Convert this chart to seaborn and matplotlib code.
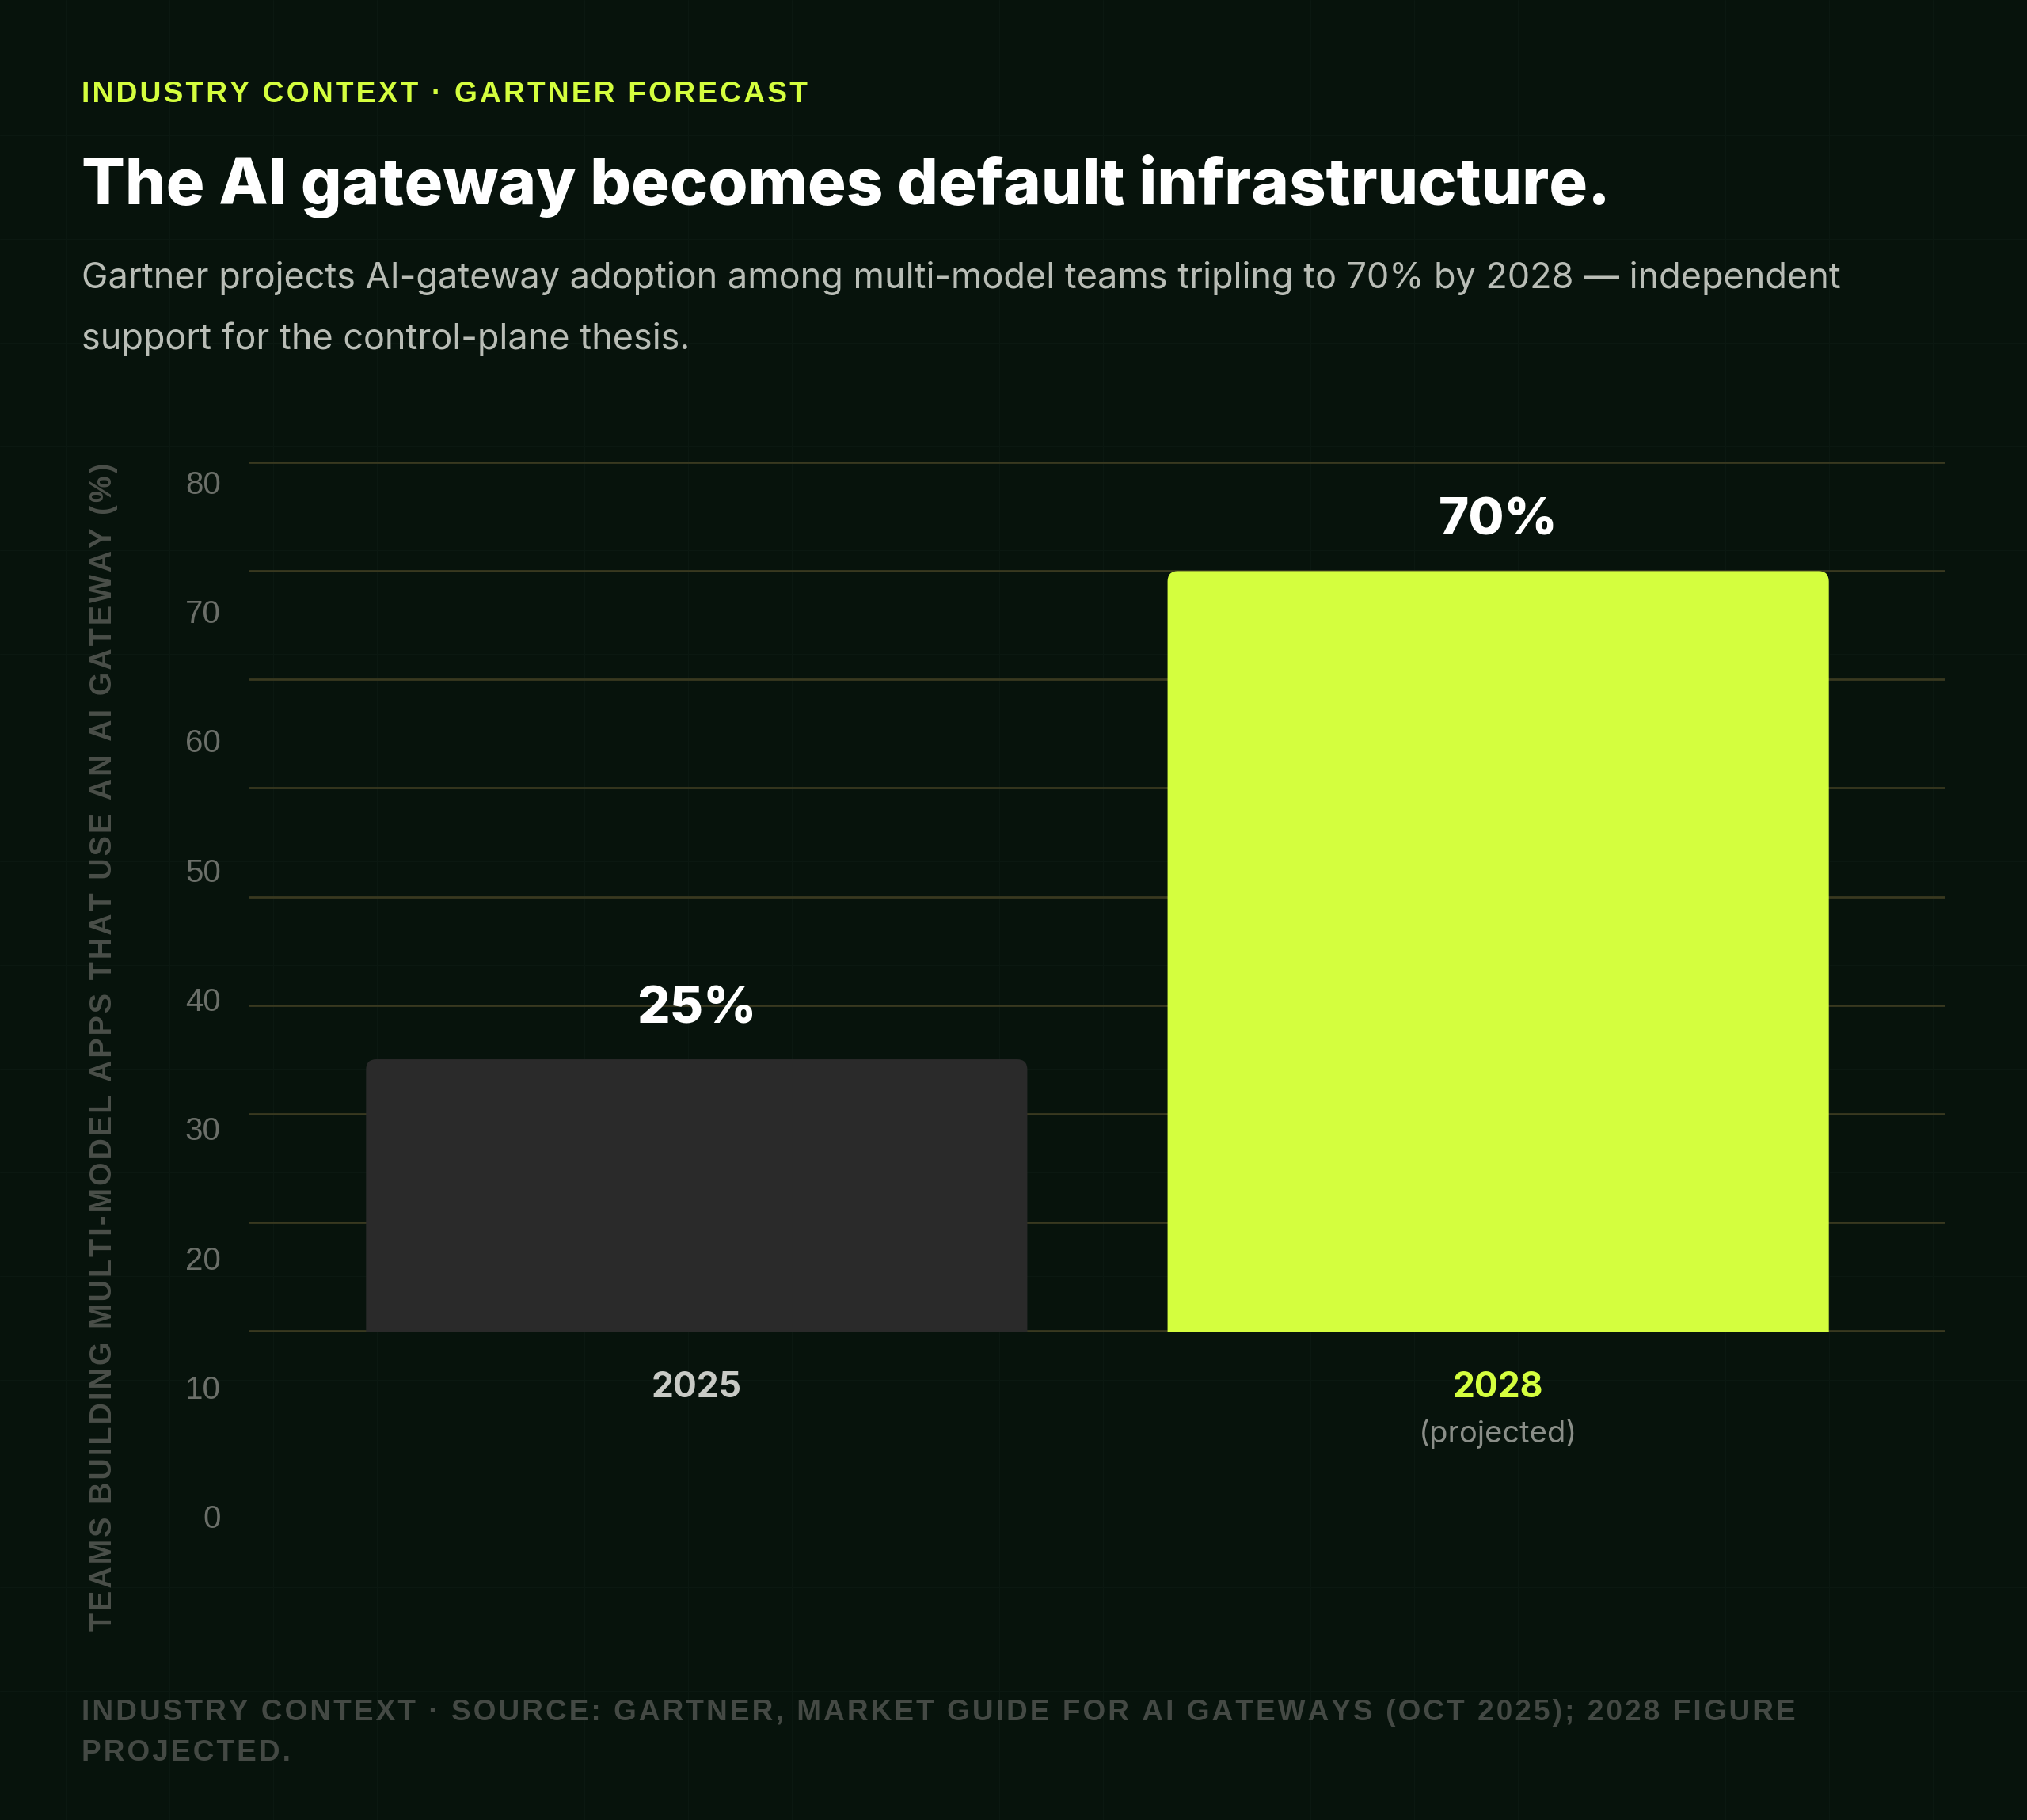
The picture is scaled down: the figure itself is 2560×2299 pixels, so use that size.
import matplotlib
matplotlib.use("Agg")
import matplotlib.pyplot as plt
from matplotlib.lines import Line2D
from matplotlib.patches import FancyBboxPatch
import pandas as pd
import seaborn as sns

# chart data
years = ["2025", "2028"]
adoption = [25, 70]
year_notes = ["", "(projected)"]
value_labels = ["25%", "70%"]
y_ticks = [0, 10, 20, 30, 40, 50, 60, 70, 80]

kicker = "INDUSTRY CONTEXT · GARTNER FORECAST"
title = "The AI gateway becomes default infrastructure."
subtitle = ["Gartner projects AI-gateway adoption among multi-model teams tripling to 70% by 2028 — independent",
            "support for the control-plane thesis."]
y_label = "TEAMS BUILDING MULTI-MODEL APPS THAT USE AN AI GATEWAY (%)"
footer = ["INDUSTRY CONTEXT · SOURCE: GARTNER, MARKET GUIDE FOR AI GATEWAYS (OCT 2025); 2028 FIGURE",
          "PROJECTED."]

# colours
BG = "#07130c"
LIME = "#d4fe3e"
DARK_BAR = "#2a2a2a"
GRID = "#393920"
W, H = 2560, 2299

sns.set_theme(style="white")
plt.rcParams["font.family"] = ["Inter", "DejaVu Sans"]

CAPS = ["Liberation Sans", "DejaVu Sans"]


def spaced(s):
    # imitate letter-spacing with hair spaces
    return "\u200a".join(s)


def fx(px):
    return px / W


def fy(px):
    return 1 - px / H


fig = plt.figure(figsize=(W / 100, H / 100), dpi=100, facecolor=BG)

# faint background grid
for gx in range(83, W, 131):
    fig.add_artist(Line2D([fx(gx), fx(gx)], [0, 1], color="#0b1811", lw=1, zorder=0))
for gy in range(40, H, 131):
    fig.add_artist(Line2D([0, 1], [fy(gy), fy(gy)], color="#0b1811", lw=1, zorder=0))

# main axes
ax = fig.add_axes([fx(315), fy(1682), fx(2457 - 315), (1682 - 583) / H])
ax.patch.set_alpha(0)
df = pd.DataFrame({"year": years, "adoption": adoption})
sns.barplot(data=df, x="year", y="adoption", hue="year", palette=[DARK_BAR, LIME],
            width=0.825, saturation=1, legend=False, ax=ax)
ax.set_xlim(-0.558, 1.558)
ax.set_ylim(-0.1, 80.1)
ax.set_yticks(y_ticks)
ax.yaxis.grid(True, color=GRID, lw=2.0)
ax.xaxis.grid(False)
ax.set_axisbelow(True)
ax.tick_params(axis="y", left=False, labelleft=False)
ax.tick_params(axis="x", bottom=False, pad=30)
for sp in ax.spines.values():
    sp.set_visible(False)
ax.set_xlabel("")
ax.set_ylabel("")

# rounded top corners on the bars
fig.canvas.draw()
bb = ax.get_window_extent()
px_x = bb.width / (ax.get_xlim()[1] - ax.get_xlim()[0])
px_y = bb.height / (ax.get_ylim()[1] - ax.get_ylim()[0])
r = 13 / px_x
for p in list(ax.patches):
    x0, w, h = p.get_x(), p.get_width(), p.get_height()
    fc = p.get_facecolor()
    p.remove()
    ax.add_patch(FancyBboxPatch((x0, -3), w, h + 3, boxstyle=f"round,pad=0,rounding_size={r}",
                                mutation_aspect=px_x / px_y, fc=fc, ec="none", zorder=3))

ax.set_xticks([0, 1])
ax.set_xticklabels(years, fontsize=32, fontweight="bold")
for lab, c in zip(ax.get_xticklabels(), ["#c8cac5", LIME]):
    lab.set_color(c)

for i, note in enumerate(year_notes):
    if note:
        ax.annotate(note, xy=(i, 0), xycoords=ax.get_xaxis_transform(), xytext=(0, -101),
                    textcoords="offset points", ha="center", va="baseline",
                    fontsize=27.5, color="#8a8e88")

for i, (v, lab) in enumerate(zip(adoption, value_labels)):
    ax.annotate(lab, xy=(i, v), xytext=(0, 33), textcoords="offset points",
                ha="center", va="baseline", fontsize=47, fontweight="heavy", color="white")

# misaligned tick label column
tax = fig.add_axes([fx(315), fy(1915), 0.0001, (1915 - 609) / H])
tax.patch.set_alpha(0)
tax.set_ylim(0, 80)
tax.set_yticks(y_ticks)
tax.set_yticklabels([str(t) for t in y_ticks], family=CAPS)
tax.set_xticks([])
tax.tick_params(axis="y", length=0, pad=26, labelsize=29, labelcolor="#6b6f69")
for sp in tax.spines.values():
    sp.set_visible(False)

# text blocks
fig.text(fx(103), fy(129), spaced(kicker), color=LIME, fontsize=26.8, fontweight="bold",
         family=CAPS, va="baseline")
fig.text(fx(103), fy(258), title, color="white", fontsize=58.5, fontweight="heavy", va="baseline")
for k, line in enumerate(subtitle):
    fig.text(fx(103), fy(364 + 77 * k), line, color="#b9bdb6", fontsize=32.4, va="baseline")
fig.text(fx(131), fy(1322), spaced(y_label), color="#4a4f49", fontsize=27.2, fontweight="bold",
         family=CAPS, rotation=90, ha="center", va="center")
for k, line in enumerate(footer):
    fig.text(fx(103), fy(2173 + 51 * k), spaced(line), color="#444944", fontsize=26.6,
             fontweight="bold", family=CAPS, va="baseline")

fig.savefig("out.png", dpi=100, facecolor=BG)
